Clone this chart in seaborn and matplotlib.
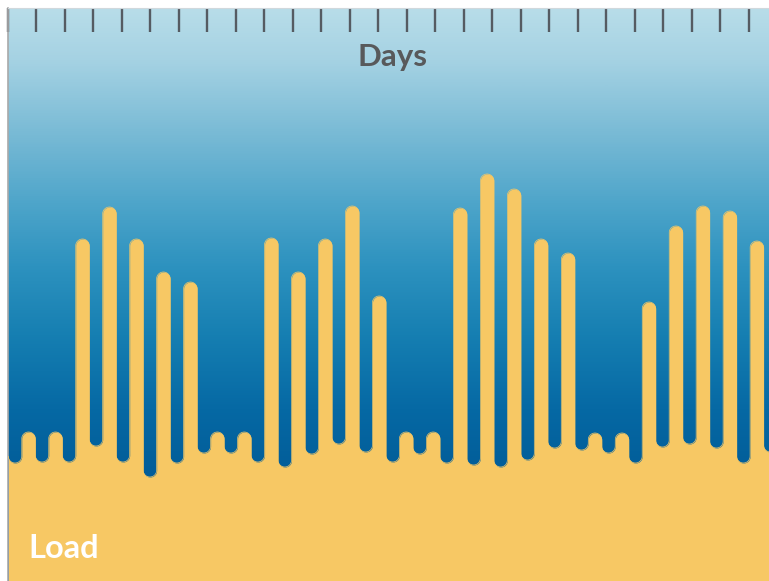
import numpy as np
import pandas as pd
import matplotlib
matplotlib.use("Agg")
import matplotlib.pyplot as plt
from matplotlib.colors import LinearSegmentedColormap
import seaborn as sns

# ---- data (heights measured from bottom of chart, in chart units) ----
days = list(range(28))
load_peaks = [149, 149, 342, 374, 342, 309, 299, 149, 149, 343, 309, 342, 375, 285,
              149, 149, 373, 407, 392, 342, 328, 148, 148, 279, 355, 375, 370, 340]
rest_troughs = [118, 119, 119, 135, 119, 104, 118, 128, 128, 119, 114, 127, 137, 129,
                119, 127, 118, 116, 114, 121, 133, 131, 128, 118, 134, 137, 133, 118, 129]
n_ticks = 27
title_text = "Days"
base_text = "Load"

# ---- style ----
YELLOW = "#f7c864"
W, H = 769, 581
sns.set_theme(style="white")
plt.rcParams["font.family"] = ["Lato", "DejaVu Sans"]

fig = plt.figure(figsize=(W / 100, H / 100), dpi=100)
ax = fig.add_axes([8 / W, 0, 1 - 8 / W, 1 - 8 / H])

xmin, xmax = -0.76, 27.45
ymin, ymax = 0, 573
ax.set_xlim(xmin, xmax)
ax.set_ylim(ymin, ymax)

# background gradient (top light -> bottom dark blue)
cmap = LinearSegmentedColormap.from_list(
    "sea",
    [(0.0, "#b8dde9"), (0.09, "#a5d2e3"), (0.22, "#78bad5"), (0.34, "#4ea5ca"),
     (0.45, "#2d92bf"), (0.57, "#167fb2"), (0.70, "#0669a4"), (0.80, "#025e9a"),
     (1.0, "#025796")])
grad = np.linspace(0, 1, 512).reshape(-1, 1)
ax.imshow(grad, cmap=cmap, aspect="auto", extent=[xmin, xmax, ymin, ymax],
          origin="upper", zorder=0, interpolation="bilinear")

# build the yellow profile from the data
rx, ry = 0.25, 6.75
xs, ys = [], []
th_down = np.linspace(np.pi, 2 * np.pi, 24)
th_up = np.linspace(np.pi, 0, 24)
for j, t in enumerate(rest_troughs):
    s = j - 0.5
    xs.append(s - rx); ys.append(t + ry)
    xs.extend(s + rx * np.cos(th_down)); ys.extend(t + ry + ry * np.sin(th_down))
    if j < len(load_peaks):
        p = load_peaks[j]
        i = days[j]
        xs.append(i - rx); ys.append(p - ry)
        xs.extend(i + rx * np.cos(th_up)); ys.extend(p - ry + ry * np.sin(th_up))
xs = np.array(xs); ys = np.array(ys)
ax.fill_between(xs, 0, ys, color=YELLOW, lw=0, zorder=2)
prof = pd.DataFrame({"x": xs, "y": ys})
sns.lineplot(data=prof, x="x", y="y", sort=False, estimator=None, color=YELLOW,
             lw=0.5, ax=ax, zorder=3)

# top ticks ("Days" ruler)
tick_pos = np.linspace(xmin, xmin + (n_ticks - 1) * 1.0563, n_ticks)
ax.set_xticks(tick_pos)
ax.set_xticklabels([])
ax.set_yticks([])
ax.xaxis.set_ticks_position("top")
ax.tick_params(axis="x", direction="in", length=17, width=1.7, color="#555b62",
               top=True, bottom=False, pad=0)
ax.set_xlabel("")
ax.set_ylabel("")

for side in ["right", "bottom"]:
    ax.spines[side].set_visible(False)
ax.spines["left"].set_color("#a9a9a9")
ax.spines["left"].set_linewidth(1.2)
ax.spines["top"].set_color("#d0d8dc")
ax.spines["top"].set_linewidth(0.8)

fig.text(393 / W, 1 - 57 / H, title_text, ha="center", va="center",
         fontsize=22.5, fontweight="bold", color="#58595b")
fig.text(28 / W, 1 - 549 / H, base_text, ha="left", va="center",
         fontsize=23.5, fontweight="bold", color="white")

fig.savefig("out.png", dpi=100, facecolor="white")
